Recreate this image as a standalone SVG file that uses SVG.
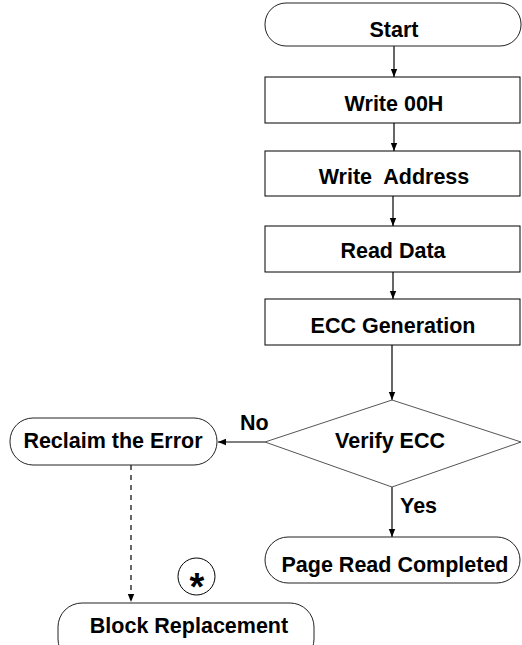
<svg xmlns="http://www.w3.org/2000/svg" width="522" height="645" viewBox="0 0 522 645">
<defs>
<marker id="ah" markerWidth="8" markerHeight="8" refX="8" refY="4" orient="auto" markerUnits="userSpaceOnUse">
<path d="M0,0.8 L8,4 L0,7.2 Z" fill="#000"/>
</marker>
<style>
.box{fill:#fff;stroke:#000;stroke-width:1}
.term{fill:#fff;stroke:#222;stroke-width:1}
.dia{fill:#fff;stroke:#555;stroke-width:1}
.t{font-family:"Liberation Sans",Arial,sans-serif;font-weight:bold;font-size:21.5px;fill:#000;text-anchor:middle}
.l{font-family:"Liberation Sans",Arial,sans-serif;font-weight:bold;font-size:21.5px;fill:#000}
.c{stroke:#000;stroke-width:1.2;fill:none}
</style>
</defs>
<rect width="522" height="645" fill="#fff"/>
<g id="connectors">
<line class="c" x1="394" y1="46" x2="394" y2="77" marker-end="url(#ah)"/>
<line class="c" x1="394" y1="123" x2="394" y2="151" marker-end="url(#ah)"/>
<line class="c" x1="393" y1="196" x2="393" y2="226" marker-end="url(#ah)"/>
<line class="c" x1="393" y1="272" x2="393" y2="299" marker-end="url(#ah)"/>
<line class="c" x1="392" y1="345" x2="392" y2="400" marker-end="url(#ah)"/>
<line class="c" x1="265" y1="442" x2="218" y2="442" marker-end="url(#ah)"/>
<line class="c" x1="392" y1="487" x2="392" y2="537" marker-end="url(#ah)"/>
<line class="c" x1="131" y1="465" x2="131" y2="602" stroke-dasharray="5,5" marker-end="url(#ah)"/>
<text class="l" x="240" y="430">No</text>
<text class="l" x="400" y="513">Yes</text>
</g>
<g id="start">
<rect class="term" x="265" y="3" width="256" height="43" rx="21" ry="21"/>
<text class="t" x="394" y="37">Start</text>
</g>
<g id="write00h">
<rect class="box" x="265" y="77" width="255" height="46"/>
<text class="t" x="394" y="111">Write 00H</text>
</g>
<g id="writeaddress">
<rect class="box" x="265" y="151" width="255" height="45"/>
<text class="t" x="394" y="184" xml:space="preserve">Write  Address</text>
</g>
<g id="readdata">
<rect class="box" x="265" y="226" width="255" height="46"/>
<text class="t" x="393" y="258">Read Data</text>
</g>
<g id="eccgen">
<rect class="box" x="265" y="299" width="255" height="46"/>
<text class="t" x="393" y="333">ECC Generation</text>
</g>
<g id="verify">
<polygon class="dia" points="392,400 521,442 392,487 265,442"/>
<text class="t" x="390" y="448">Verify ECC</text>
</g>
<g id="reclaim">
<rect class="term" x="10" y="418" width="207" height="47" rx="23" ry="23"/>
<text class="t" x="113" y="448">Reclaim the Error</text>
</g>
<g id="pagereadcompleted">
<rect class="term" x="265" y="537" width="255" height="46" rx="23" ry="23"/>
<text class="t" x="395" y="572">Page Read Completed</text>
</g>
<g id="star">
<circle cx="196.5" cy="576.5" r="18.5" fill="#fff" stroke="#000" stroke-width="1"/>
<text class="t" x="197" y="600" style="font-size:38px">*</text>
</g>
<g id="blockreplacement">
<rect class="term" x="58" y="603" width="256" height="60" rx="24" ry="24"/>
<text class="t" x="189" y="633">Block Replacement</text>
</g>
</svg>
